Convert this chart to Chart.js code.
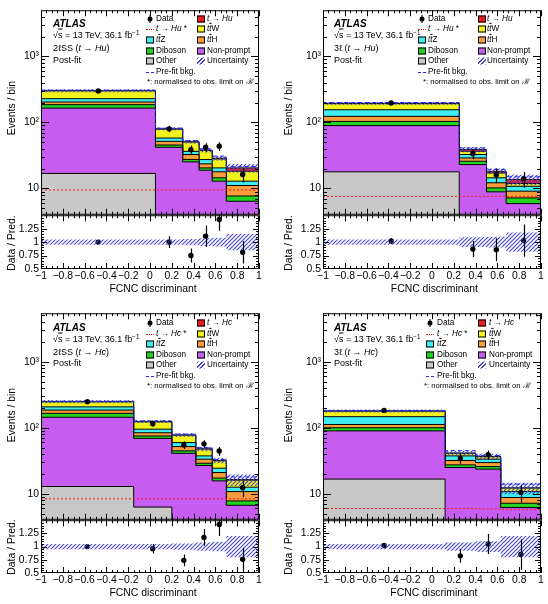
<!DOCTYPE html>
<html>
<head>
<meta charset="utf-8">
<script src="https://cdn.jsdelivr.net/npm/chart.js@4.4.1/dist/chart.umd.min.js"></script>
<style>
  body { margin: 0; width: 548px; height: 604px; position: relative; overflow: hidden; background: #fff;
         font-family: "Liberation Sans", Arial, Helvetica, sans-serif; color: #000; }
  canvas { position: absolute; }
  .t { position: absolute; white-space: nowrap; line-height: 1; transform: translateY(-50%); }
  .r { transform: translate(-100%, -50%); }
  .lab { font-size: 9px; }
  .atl { font-size: 10px; font-weight: bold; font-style: italic; }
  .leg { font-size: 8.2px; }
  .note { font-size: 7.7px; }
  .ax { font-size: 10.4px; }
  .rot { position: absolute; white-space: nowrap; line-height: 1; font-size: 10.4px; transform: translate(-50%, -50%) rotate(-90deg); }
  .sw { position: absolute; box-sizing: border-box; width: 8px; height: 7px; border: 1px solid #000; transform: translateY(-50%); }
  .ln { position: absolute; width: 8px; height: 0; }
  .dot { position: absolute; width: 5px; height: 5px; border-radius: 50%; background: #000; transform: translate(-50%, -50%); }
  .bar { position: absolute; width: 1px; height: 8px; background: #000; transform: translate(-50%, -50%); }
  .hatch { background: repeating-linear-gradient(-45deg, rgb(70,70,205) 0 1px, #fff 1px 3px); }
  .ol { text-decoration: overline; }
  sup { font-size: 70%; vertical-align: 0.4em; line-height: 0; }
</style>
</head>
<body>
<script>
// axis ticks
const xTickVals = [-1, -0.8, -0.6, -0.4, -0.2, 0, 0.2, 0.4, 0.6, 0.8, 1];
const logTickVals = [10, 100, 1000];
const ratioTickVals = [0.5, 0.75, 1, 1.25];

// 2lSS, t -> Hu
const edgesHu2l = [-1, 0.05, 0.3, 0.45, 0.57, 0.7, 1];
const otherHu2l = [16.9, 1.0, 0.8, 0.6, 0.5, 0.4];
const nonPromptHu2l = [148, 41, 24.5, 18.3, 12.4, 6.0];
const dibosonHu2l = [21, 3.5, 2.2, 1.6, 1.6, 1.3];
const ttHHu2l = [18, 6.2, 5.2, 3.1, 3.4, 3.4];
const ttZHu2l = [25, 6.3, 3.8, 3.8, 2.6, 1.8];
const ttWHu2l = [72, 21, 14, 10.3, 7.5, 5.3];
const sigHu2l = [2, 1, 0.5, 0.4, 0.8, 2.3];
const sigNormHu2l = [9.5, 9.5, 9.5, 9.5, 9.5, 9.5];
const prefitHu2l = [308, 82, 53, 40, 31, 21.5];
const uncHu2l = [0.05, 0.05, 0.06, 0.07, 0.08, 0.15];
const dataHu2l = [300, 80, 38.5, 42, 43.5, 16.3];
const dataErrHu2l = [17, 9, 6.2, 6.5, 6.6, 4];
const ratioHu2l = [1.0, 1.0, 0.75, 1.11, 1.42, 0.81];
const ratioErrHu2l = [0.02, 0.11, 0.13, 0.2, 0.21, 0.21];

// 3l, t -> Hu
const edgesHu3l = [-1, 0.25, 0.5, 0.68, 1];
const otherHu3l = [17.9, 1.0, 0.5, 0.3];
const nonPromptHu3l = [71.7, 22, 8.4, 5.6];
const dibosonHu3l = [14, 2.8, 1.3, 1.3];
const ttHHu3l = [20, 3.2, 2.0, 1.9];
const ttZHu3l = [32, 3.7, 2.3, 1.7];
const ttWHu3l = [37, 3.9, 2.7, 1.1];
const sigHu3l = [2, 2.2, 1.0, 1.8];
const sigNormHu3l = [7.6, 7.6, 7.6, 7.6];
const prefitHu3l = [200, 41, 19.5, 15];
const uncHu3l = [0.05, 0.09, 0.1, 0.18];
const dataHu3l = [197, 33.5, 16, 14];
const dataErrHu3l = [14, 5.8, 4, 3.7];
const ratioHu3l = [1.02, 0.87, 0.86, 1.03];
const ratioErrHu3l = [0.05, 0.15, 0.21, 0.3];

// 2lSS, t -> Hc
const edgesHc2l = [-1, -0.15, 0.2, 0.42, 0.57, 0.7, 1];
const otherHc2l = [12.9, 6.3, 2.0, 1.0, 0.7, 0.5];
const nonPromptHc2l = [131, 62.7, 39, 25.8, 15, 6.2];
const dibosonHc2l = [21, 6, 3.7, 2.2, 1.6, 1.1];
const ttHHc2l = [20, 9, 7.1, 4.4, 3.7, 3.0];
const ttZHc2l = [22, 11, 7.8, 4.1, 3.4, 1.8];
const ttWHc2l = [40, 28, 17.5, 10, 7.2, 3.5];
const sigHc2l = [1, 1, 0.6, 0.4, 0.4, 0.3];
const sigNormHc2l = [8.4, 8.4, 8.4, 8.4, 8.4, 8.4];
const prefitHc2l = [252, 127, 80, 50, 33, 18];
const uncHc2l = [0.05, 0.05, 0.06, 0.08, 0.09, 0.2];
const dataHc2l = [248, 115, 55, 57, 44.5, 12.4];
const dataErrHc2l = [15.7, 10.7, 7.4, 7.5, 6.7, 3.5];
const ratioHc2l = [1.0, 0.96, 0.74, 1.175, 1.42, 0.76];
const ratioErrHc2l = [0.03, 0.09, 0.11, 0.16, 0.22, 0.22];

// 3l, t -> Hc
const edgesHc3l = [-1, 0.12, 0.4, 0.63, 1];
const otherHc3l = [16.7, 1.0, 1.0, 0.3];
const nonPromptHc3l = [72.9, 24, 22.6, 5.9];
const dibosonHc3l = [10.4, 2.4, 2.2, 1.0];
const ttHHc3l = [12, 4.5, 3.9, 1.6];
const ttZHc3l = [35, 5.6, 3.7, 2.0];
const ttWHc3l = [31, 3.5, 3.1, 1.4];
const sigHc3l = [1, 0.3, 0.2, 0.1];
const sigNormHc3l = [6.0, 6.0, 5.9, 5.8];
const prefitHc3l = [182, 45, 38, 14];
const uncHc3l = [0.05, 0.08, 0.1, 0.2];
const dataHc3l = [183, 34.5, 39, 10.5];
const dataErrHc3l = [13.5, 5.9, 6.2, 3.2];
const ratioHc3l = [1.02, 0.825, 1.05, 0.85];
const ratioErrHc3l = [0.05, 0.13, 0.19, 0.29];

const layerColors = ['#c8c8c8', '#c75cf0', '#22d322', '#f89c3c', '#40eef2', '#f2f21c', '#ee1c1c'];
const FONT = '"Liberation Sans", Arial, sans-serif';
Chart.defaults.font.family = FONT;
Chart.defaults.color = '#000';

const panels = [
  { proc: 'Hu', chan: '2ℓSS', edges: edgesHu2l,
    layers: [otherHu2l, nonPromptHu2l, dibosonHu2l, ttHHu2l, ttZHu2l, ttWHu2l, sigHu2l],
    sigNorm: sigNormHu2l, prefit: prefitHu2l, unc: uncHu2l, data: dataHu2l, dataErr: dataErrHu2l,
    ratio: ratioHu2l, ratioErr: ratioErrHu2l,
    main: { x: 41, y: 10, w: 218, h: 205, min: 4, max: 5000 }, rat: { x: 41, y: 215, w: 218, h: 54 },
    lx: 53, ly: [24.3, 34.5, 48.3, 60], rows: [19, 29.3, 40, 51, 61, 71.7, 81.7],
    c1s: 146, c1t: 156, c2s: 197, c2t: 207, nx: 147,
    yt: 11.7, evY: 108.3, drY: 242.5, xtR: 196.7, xtY: 289.3 },
  { proc: 'Hu', chan: '3ℓ', edges: edgesHu3l,
    layers: [otherHu3l, nonPromptHu3l, dibosonHu3l, ttHHu3l, ttZHu3l, ttWHu3l, sigHu3l],
    sigNorm: sigNormHu3l, prefit: prefitHu3l, unc: uncHu3l, data: dataHu3l, dataErr: dataErrHu3l,
    ratio: ratioHu3l, ratioErr: ratioErrHu3l,
    main: { x: 323, y: 10, w: 218, h: 205, min: 4, max: 5000 }, rat: { x: 323, y: 215, w: 218, h: 54 },
    lx: 334, ly: [24.3, 34.5, 48.3, 60], rows: [19, 29.3, 40, 51, 61, 71.7, 81.7],
    c1s: 418, c1t: 428, c2s: 478, c2t: 487, nx: 423,
    yt: 289, evY: 108.3, drY: 242.5, xtR: 478, xtY: 289.3 },
  { proc: 'Hc', chan: '2ℓSS', edges: edgesHc2l,
    layers: [otherHc2l, nonPromptHc2l, dibosonHc2l, ttHHc2l, ttZHc2l, ttWHc2l, sigHc2l],
    sigNorm: sigNormHc2l, prefit: prefitHc2l, unc: uncHc2l, data: dataHc2l, dataErr: dataErrHc2l,
    ratio: ratioHc2l, ratioErr: ratioErrHc2l,
    main: { x: 41, y: 313, w: 218, h: 207, min: 4.05, max: 5400 }, rat: { x: 41, y: 520, w: 218, h: 53 },
    lx: 53, ly: [328.3, 339, 351.7, 363.3], rows: [323.3, 333.7, 343.7, 355, 365, 376, 386],
    c1s: 146, c1t: 156, c2s: 197, c2t: 207, nx: 147,
    yt: 11.7, evY: 414.5, drY: 547.3, xtR: 196.7, xtY: 593.3 },
  { proc: 'Hc', chan: '3ℓ', edges: edgesHc3l,
    layers: [otherHc3l, nonPromptHc3l, dibosonHc3l, ttHHc3l, ttZHc3l, ttWHc3l, sigHc3l],
    sigNorm: sigNormHc3l, prefit: prefitHc3l, unc: uncHc3l, data: dataHc3l, dataErr: dataErrHc3l,
    ratio: ratioHc3l, ratioErr: ratioErrHc3l,
    main: { x: 323, y: 313, w: 218, h: 207, min: 4.05, max: 5400 }, rat: { x: 323, y: 520, w: 218, h: 53 },
    lx: 334, ly: [328.3, 339, 351.7, 363.3], rows: [323.3, 333.7, 343.7, 355, 365, 376, 386],
    c1s: 426, c1t: 437, c2s: 478, c2t: 489, nx: 424,
    yt: 289, evY: 414.5, drY: 547.3, xtR: 477.5, xtY: 593.3 }
];

function hatchPattern() {
  const c = document.createElement('canvas');
  c.width = 4; c.height = 4;
  const g = c.getContext('2d');
  g.strokeStyle = 'rgb(70,70,205)';
  g.lineWidth = 1.1;
  g.beginPath();
  g.moveTo(0, 4); g.lineTo(4, 0);
  g.moveTo(-1, 1); g.lineTo(1, -1);
  g.moveTo(3, 5); g.lineTo(5, 3);
  g.stroke();
  return g.createPattern(c, 'repeat');
}

function steps(edges, vals) {
  const pts = vals.map((v, i) => ({ x: edges[i], y: v }));
  pts.push({ x: edges[edges.length - 1], y: vals[vals.length - 1] });
  return pts;
}
function centers(edges, vals) {
  return vals.map((v, i) => ({ x: (edges[i] + edges[i + 1]) / 2, y: v }));
}

// frame with inward ticks on all four sides
const framePlugin = {
  id: 'frame',
  afterDatasetsDraw(chart, args, opts) {
    const { ctx, chartArea: a, scales: { x, y } } = chart;
    ctx.save();
    ctx.strokeStyle = '#000';
    ctx.lineWidth = 1;
    ctx.beginPath();
    for (let i = 0; i <= 40; i++) {
      const px = Math.round(x.getPixelForValue(-1 + i * 0.05)) + 0.5;
      const len = i % 4 === 0 ? opts.xMajor : opts.xMinor;
      ctx.moveTo(px, a.bottom); ctx.lineTo(px, a.bottom - len);
      ctx.moveTo(px, a.top); ctx.lineTo(px, a.top + len);
    }
    const yTick = (v, len) => {
      const py = Math.round(y.getPixelForValue(v)) + 0.5;
      ctx.moveTo(a.left, py); ctx.lineTo(a.left + len, py);
      ctx.moveTo(a.right, py); ctx.lineTo(a.right - len, py);
    };
    if (opts.log) {
      for (let d = 1; d <= 1000; d *= 10) {
        for (let m = 1; m <= 9; m++) {
          const v = m * d;
          if (v > y.min && v < y.max) yTick(v, m === 1 ? opts.yMajor : opts.yMinor);
        }
      }
    } else {
      for (let i = 1; i < 20; i++) yTick(0.5 + i * 0.05, i % 5 === 0 ? opts.yMajor : opts.yMinor);
    }
    ctx.stroke();
    ctx.strokeRect(a.left + 0.5, a.top + 0.5, a.width - 1, a.height - 1);
    ctx.restore();
  }
};

const errorBars = {
  id: 'errorBars',
  afterDatasetsDraw(chart) {
    const { ctx, chartArea: a, scales: { x, y } } = chart;
    ctx.save();
    ctx.beginPath();
    ctx.rect(a.left, a.top, a.width, a.height);
    ctx.clip();
    ctx.strokeStyle = '#000';
    ctx.lineWidth = 1.2;
    chart.data.datasets.forEach(d => {
      if (!d.yErr) return;
      d.data.forEach((p, i) => {
        const px = Math.round(x.getPixelForValue(p.x)) + 0.5;
        ctx.beginPath();
        ctx.moveTo(px, y.getPixelForValue(p.y - d.yErr[i]));
        ctx.lineTo(px, y.getPixelForValue(p.y + d.yErr[i]));
        ctx.stroke();
      });
    });
    ctx.restore();
  }
};

const tickFont = { family: FONT, size: 10.4 };
const noGrid = { display: false, drawTicks: false };
const supLabel = { 10: '10', 100: '10²', 1000: '10³' };
const fmtX = v => (v === 0 ? '0' : String(Math.round(v * 10) / 10).replace('-', '−'));

function mainConfig(p) {
  const ds = [];
  let cum = p.layers[0].map(() => 0);
  p.layers.forEach((arr, k) => {
    cum = cum.map((c, i) => c + arr[i]);
    ds.push({ data: steps(p.edges, cum), stepped: true, fill: k === 0 ? 'start' : '-1',
      backgroundColor: layerColors[k], borderColor: '#000', borderWidth: 1, pointRadius: 0, order: 10 });
  });
  const pat = hatchPattern();
  ds.push({ data: steps(p.edges, cum.map((t, i) => t * (1 - p.unc[i]))), stepped: true, fill: false,
    borderColor: 'rgba(0,0,0,0)', borderWidth: 0, pointRadius: 0, order: 5 });
  const low = ds.length - 1;
  ds.push({ data: steps(p.edges, cum.map((t, i) => t * (1 + p.unc[i]))), stepped: true, fill: { target: low },
    backgroundColor: pat, borderColor: 'rgba(0,0,0,0)', borderWidth: 0, pointRadius: 0, order: 5 });
  ds.push({ data: steps(p.edges, p.prefit), stepped: true, fill: false, borderColor: '#2424ff',
    borderDash: [4, 3], borderWidth: 1, pointRadius: 0, order: 3 });
  ds.push({ data: steps(p.edges, p.sigNorm), stepped: true, fill: false, borderColor: '#ff1a1a',
    borderDash: [2, 2], borderWidth: 1, pointRadius: 0, order: 3 });
  ds.push({ data: centers(p.edges, p.data), yErr: p.dataErr, showLine: false, pointRadius: 2.7,
    pointBackgroundColor: '#000', pointBorderColor: '#000', pointBorderWidth: 0, order: 1 });
  return {
    type: 'line',
    data: { datasets: ds },
    options: {
      responsive: false, maintainAspectRatio: false, animation: false, events: [],
      layout: { padding: { top: 8, right: 8, bottom: 8, left: 0 } },
      plugins: { legend: { display: false }, tooltip: { enabled: false },
        frame: { log: true, xMajor: 6, xMinor: 3, yMajor: 8, yMinor: 4 } },
      scales: {
        x: { type: 'linear', min: -1, max: 1, display: false },
        y: { type: 'logarithmic', min: p.main.min, max: p.main.max,
          grid: noGrid, border: { display: false },
          afterBuildTicks: s => { s.ticks = logTickVals.map(v => ({ value: v })); },
          afterFit: s => { s.width = 41; },
          ticks: { padding: 2, font: tickFont, color: '#000', callback: v => supLabel[v] || '' } }
      }
    },
    plugins: [framePlugin, errorBars]
  };
}

function ratioConfig(p) {
  const pat = hatchPattern();
  const ds = [
    { data: centers(p.edges, p.ratio), yErr: p.ratioErr, showLine: false, pointRadius: 2.7,
      pointBackgroundColor: '#000', pointBorderColor: '#000', pointBorderWidth: 0, order: 2 },
    { data: steps(p.edges, p.unc.map(u => 1 - u)), stepped: true, fill: false,
      borderColor: 'rgba(0,0,0,0)', borderWidth: 0, pointRadius: 0, order: 1 },
    { data: steps(p.edges, p.unc.map(u => 1 + u)), stepped: true, fill: { target: 1 },
      backgroundColor: pat, borderColor: 'rgba(0,0,0,0)', borderWidth: 0, pointRadius: 0, order: 1 }
  ];
  return {
    type: 'line',
    data: { datasets: ds },
    options: {
      responsive: false, maintainAspectRatio: false, animation: false, events: [],
      layout: { padding: { top: 8, right: 8, bottom: 8, left: 0 } },
      plugins: { legend: { display: false }, tooltip: { enabled: false },
        frame: { log: false, xMajor: 6, xMinor: 3, yMajor: 6, yMinor: 3 } },
      scales: {
        x: { type: 'linear', min: -1, max: 1, grid: noGrid, border: { display: false },
          afterBuildTicks: s => { s.ticks = xTickVals.map(v => ({ value: v })); },
          afterFit: s => { s.height = 20; },
          ticks: { padding: 1, maxRotation: 0, autoSkip: false, font: tickFont, color: '#000', callback: v => fmtX(v) } },
        y: { type: 'linear', min: 0.5, max: 1.5, grid: noGrid, border: { display: false },
          afterBuildTicks: s => { s.ticks = ratioTickVals.map(v => ({ value: v })); },
          afterFit: s => { s.width = 41; },
          ticks: { padding: 2, font: tickFont, color: '#000', callback: v => String(v) } }
      }
    },
    plugins: [framePlugin, errorBars]
  };
}

function mount(cfgFn, box, extraH) {
  const cv = document.createElement('canvas');
  const W = box.w + 49, H = box.h + 16 + extraH;
  cv.width = W; cv.height = H;
  document.body.appendChild(cv);
  let chart = new Chart(cv, cfgFn());
  let a = chart.chartArea;
  const dw = box.w - (a.right - a.left), dh = box.h - (a.bottom - a.top);
  if (dw || dh) {
    chart.destroy();
    cv.width = W + dw; cv.height = H + dh;
    chart = new Chart(cv, cfgFn());
    a = chart.chartArea;
  }
  cv.style.left = (box.x - a.left) + 'px';
  cv.style.top = (box.y - a.top) + 'px';
}

function el(cls, x, y, html) {
  const e = document.createElement('div');
  e.className = cls;
  e.style.left = x + 'px';
  e.style.top = y + 'px';
  if (html !== undefined) e.innerHTML = html;
  document.body.appendChild(e);
  return e;
}

const tt = v => '<i>t<span class="ol">t</span></i>' + v;

panels.forEach(p => {
  mount(() => mainConfig(p), p.main, 0);
  mount(() => ratioConfig(p), p.rat, 20);

  const proc = '<i>t</i> → <i>' + p.proc + '</i>';
  el('t atl', p.lx, p.ly[0], 'ATLAS');
  el('t lab', p.lx, p.ly[1], '√<span class="ol">s</span> = 13 TeV, 36.1 fb<sup>−1</sup>');
  el('t lab', p.lx, p.ly[2], p.chan + ' (' + proc + ')');
  el('t lab', p.lx, p.ly[3], 'Post-fit');

  const r = p.rows;
  // column 1
  el('bar', p.c1s + 4, r[0]);
  el('dot', p.c1s + 4, r[0]);
  el('t leg', p.c1t, r[0], 'Data');
  const sl = el('ln', p.c1s, r[1]); sl.style.borderTop = '1px dotted #ff1a1a';
  el('t leg', p.c1t, r[1], proc + ' *');
  el('sw', p.c1s, r[2]).style.background = layerColors[4];
  el('t leg', p.c1t, r[2], tt('Z'));
  el('sw', p.c1s, r[3]).style.background = layerColors[2];
  el('t leg', p.c1t, r[3], 'Diboson');
  el('sw', p.c1s, r[4]).style.background = layerColors[0];
  el('t leg', p.c1t, r[4], 'Other');
  const pl = el('ln', p.c1s, r[5]); pl.style.borderTop = '1px dashed #2424ff';
  el('t leg', p.c1t, r[5], 'Pre-fit bkg.');
  el('t note', p.nx, r[6], '*: normalised to obs. limit on <i>ℬ</i>');
  // column 2
  el('sw', p.c2s, r[0]).style.background = layerColors[6];
  el('t leg', p.c2t, r[0], proc);
  el('sw', p.c2s, r[1]).style.background = layerColors[5];
  el('t leg', p.c2t, r[1], tt('W'));
  el('sw', p.c2s, r[2]).style.background = layerColors[3];
  el('t leg', p.c2t, r[2], tt('H'));
  el('sw', p.c2s, r[3]).style.background = layerColors[1];
  el('t leg', p.c2t, r[3], 'Non-prompt');
  const hs = el('sw hatch', p.c2s, r[4]); hs.style.border = 'none';
  el('t leg', p.c2t, r[4], 'Uncertainty');

  // axis titles
  el('rot', p.yt, p.evY, 'Events / bin');
  el('rot', p.yt, p.drY, 'Data / Pred.');
  el('t ax r', p.xtR, p.xtY, 'FCNC discriminant');
});
</script>
</body>
</html>
